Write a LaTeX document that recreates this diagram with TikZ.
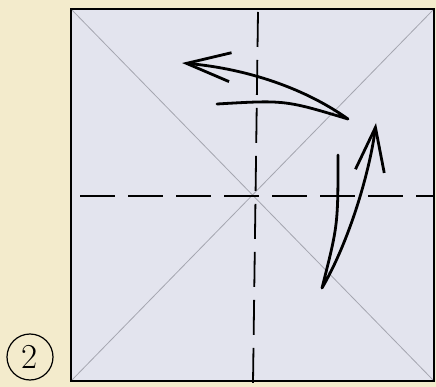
\documentclass[tikz,border=0pt]{standalone}
\usetikzlibrary{arrows.meta}
\definecolor{paper}{RGB}{243,235,204}
\definecolor{sheet}{RGB}{227,228,238}
\definecolor{crease}{RGB}{165,166,176}
\tikzset{
  valley/.style={line width=1.8pt,dash pattern=on 35pt off 13pt},
  foldarrow/.style={line width=2.8pt,line cap=round,line join=round,
    -{Straight Barb[length=44pt,width=29pt,line width=2.8pt]}},
}
\begin{document}
\begin{tikzpicture}[x=1pt,y=-1pt]
\fill[paper] (0,0) rectangle (436,387);
\useasboundingbox (0,0) rectangle (436,387);
% the square sheet
\coordinate (tl) at (71,9);
\coordinate (tr) at (434,9);
\coordinate (bl) at (71,381);
\coordinate (br) at (434,381);
\fill[sheet] (tl) rectangle (br);
\draw[crease,line width=0.8pt] (tl) -- (br) (tr) -- (bl);
% valley folds
\coordinate (vtop) at (258,12);
\coordinate (vbot) at (253,383);
\coordinate (hleft) at (80,196);
\coordinate (hright) at (434,196);
\draw[valley] (vtop) -- (vbot);
\draw[valley] (hleft) -- (hright);
\draw[line width=1.8pt] (tl) rectangle (br);
% fold arrows
\coordinate (upstart) at (217,104);
\coordinate (upturn) at (348,119);
\coordinate (upend) at (182,63);
\draw[foldarrow] (upstart) .. controls (285,100) .. (upturn)
  .. controls (300,85) and (240,68) .. (upend);
\coordinate (rtstart) at (338,155);
\coordinate (rtturn) at (322,288);
\coordinate (rtend) at (376,123);
\draw[foldarrow] (rtstart) .. controls (338,225) .. (rtturn)
  .. controls (350,240) and (370,170) .. (rtend);
% step number
\node[draw,circle,line width=1.2pt,minimum size=46pt,inner sep=0pt,
  font=\fontsize{35}{35}\selectfont] (stepno) at (30,357) {2};
\end{tikzpicture}
\end{document}
